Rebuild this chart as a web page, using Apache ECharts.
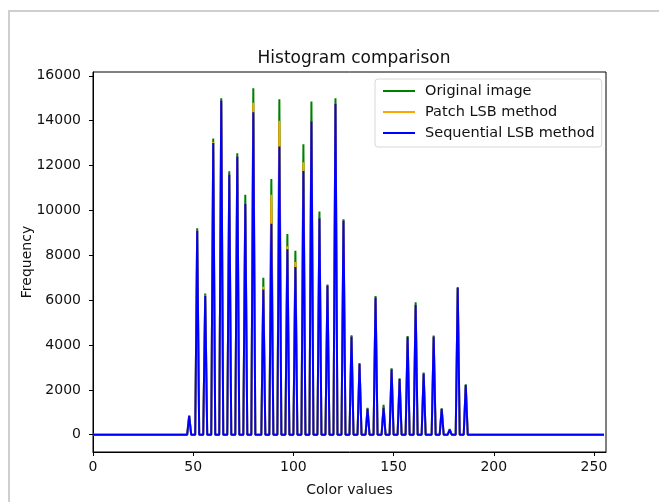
<!DOCTYPE html>
<html>
<head>
<meta charset="utf-8">
<script src="https://cdn.jsdelivr.net/npm/echarts@6/dist/echarts.min.js"></script>
<style>
  html, body { margin: 0; padding: 0; background: #fff; }
  #mychart { width: 659px; height: 502px; }
</style>
</head>
<body>
<div id="mychart"></div>
<script>
// color values that have a spike in the histogram (all other bins are 0)
const peakPos = [48, 52, 56, 60, 64, 68, 72, 76, 80, 85, 89, 93, 97, 101, 105, 109, 113, 117, 121, 125,
  129, 133, 137, 141, 145, 149, 153, 157, 161, 165, 170, 174, 178, 182, 186]
const original = [850, 9200, 6300, 13200, 15000, 11750, 12550, 10700, 15450, 7000, 11400, 14950, 8950, 8200, 12950, 14850, 9950, 6700, 15000, 9600,
  4430, 3200, 1200, 6180, 1330, 2960, 2520, 4400, 5900, 2770, 4420, 1180, 250, 6580, 2250]
const patchLSB = [840, 9120, 6220, 13050, 14900, 11600, 12400, 10300, 14800, 6600, 10700, 14000, 8400, 7700, 12150, 13970, 9650, 6650, 14750, 9550,
  4380, 3150, 1150, 6120, 1200, 2920, 2480, 4360, 5780, 2730, 4380, 1150, 230, 6540, 2220]
const sequentialLSB = [840, 9100, 6200, 13000, 14900, 11600, 12400, 10300, 14380, 6470, 9400, 12850, 8270, 7480, 11760, 13970, 9650, 6650, 14750, 9550,
  4380, 3150, 1150, 6120, 1200, 2920, 2480, 4360, 5780, 2730, 4380, 1150, 230, 6540, 2220]
const xTicks = [0, 50, 100, 150, 200, 250]
const yTicks = [0, 2000, 4000, 6000, 8000, 10000, 12000, 14000, 16000]

// full 256-bin histogram from the spike lists
function toBins(vals) {
  const bins = []
  for (let i = 0; i < 256; i++) bins.push([i, 0])
  peakPos.forEach((p, k) => { bins[p][1] = vals[k] })
  return bins
}

const font = 'DejaVu Sans'
const txt = '#111'

const option = {
  backgroundColor: '#fff',
  animation: false,
  title: {
    text: 'Histogram comparison',
    left: 349,
    top: 45,
    textAlign: 'center',
    textStyle: { fontFamily: font, fontSize: 17, fontWeight: 'normal', color: txt }
  },
  graphic: [{
    type: 'rect',
    shape: { x: 9, y: 11, width: 700, height: 600 },
    style: { fill: 'none', stroke: '#cfcfcf', lineWidth: 2 },
    silent: true
  }],
  legend: {
    orient: 'vertical',
    left: 375,
    top: 79,
    icon: 'rect',
    itemWidth: 32,
    itemHeight: 2,
    itemGap: 5,
    padding: [4, 7, 6, 8],
    backgroundColor: '#fff',
    borderColor: '#d8d8d8',
    borderWidth: 1,
    borderRadius: 3,
    textStyle: { fontFamily: font, fontSize: 14.5, color: txt, lineHeight: 16, padding: [0, 0, 0, 5] },
    data: ['Original image', 'Patch LSB method', 'Sequential LSB method']
  },
  grid: {
    left: 93,
    right: 53,
    top: 72,
    bottom: 49,
    show: true,
    borderColor: '#000',
    borderWidth: 1
  },
  xAxis: {
    type: 'value',
    min: 0,
    max: 256,
    name: 'Color values',
    nameLocation: 'middle',
    nameGap: 31,
    nameTextStyle: { fontFamily: font, fontSize: 14, color: txt },
    axisLine: { show: true, onZero: false, lineStyle: { color: '#000', width: 1 } },
    axisTick: { show: true, length: 4, lineStyle: { color: '#000' }, customValues: xTicks },
    axisLabel: { fontFamily: font, fontSize: 14, color: txt, margin: 8, customValues: xTicks, formatter: v => String(v) },
    splitLine: { show: false }
  },
  yAxis: {
    type: 'value',
    min: -770,
    max: 16170,
    name: 'Frequency',
    nameLocation: 'middle',
    nameGap: 59,
    nameMoveOverlap: false,
    nameTextStyle: { fontFamily: font, fontSize: 14, color: txt },
    axisLine: { show: true, onZero: false, lineStyle: { color: '#000', width: 1 } },
    axisTick: { show: true, length: 4, lineStyle: { color: '#000' }, customValues: yTicks },
    axisLabel: { fontFamily: font, fontSize: 14, color: txt, margin: 12, customValues: yTicks, formatter: v => String(v) },
    splitLine: { show: false }
  },
  series: [{
    name: 'Original image',
    type: 'line',
    showSymbol: false,
    color: '#008000',
    lineStyle: { width: 2 },
    data: toBins(original)
  }, {
    name: 'Patch LSB method',
    type: 'line',
    showSymbol: false,
    color: '#ffa500',
    lineStyle: { width: 2 },
    data: toBins(patchLSB)
  }, {
    name: 'Sequential LSB method',
    type: 'line',
    showSymbol: false,
    color: '#0000ff',
    lineStyle: { width: 2 },
    data: toBins(sequentialLSB)
  }]
}

const myChart = echarts.init(document.getElementById('mychart'))
myChart.setOption(option)
</script>
</body>
</html>
